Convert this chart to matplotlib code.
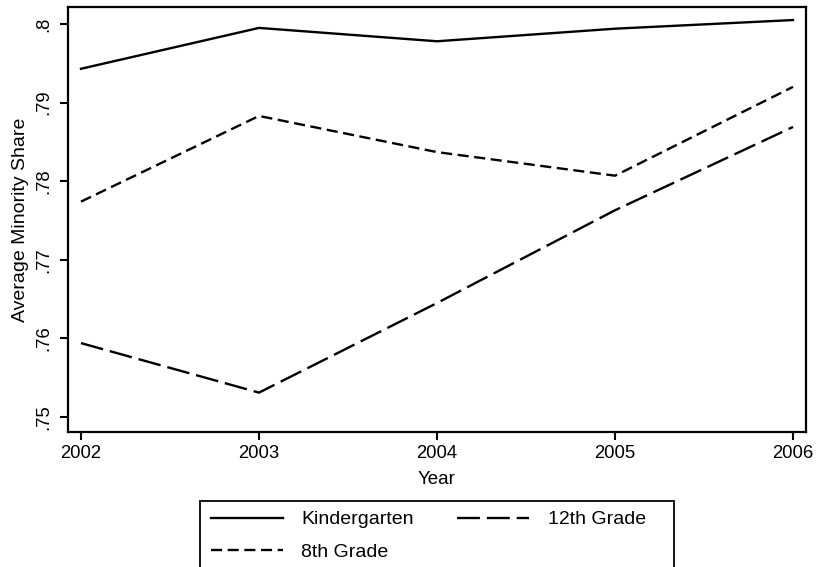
import matplotlib.pyplot as plt
from matplotlib.patches import Rectangle

plt.rcParams['font.family'] = ['Liberation Sans', 'DejaVu Sans']
plt.rcParams['lines.scale_dashes'] = False

years = [2002, 2003, 2004, 2005, 2006]
kindergarten = [0.7943, 0.7995, 0.7978, 0.7994, 0.8005]
grade12 = [0.7594, 0.7531, 0.7645, 0.7763, 0.7869]
grade8 = [0.7774, 0.7883, 0.7837, 0.7807, 0.7920]

yticks = [0.75, 0.76, 0.77, 0.78, 0.79, 0.80]
ytick_labels = ['.75', '.76', '.77', '.78', '.79', '.8']

fig = plt.figure(figsize=(8.17, 5.67), dpi=100)
ax = fig.add_axes([68/817, 1-432/567, (806-68)/817, (432-7)/567])

lw = 1.7
ax.plot(years, kindergarten, color='black', lw=lw, label='Kindergarten')
ax.plot(years, grade12, color='black', lw=lw, dashes=(16.5, 5), label='12th Grade')
ax.plot(years, grade8, color='black', lw=lw, dashes=(8, 4), label='8th Grade')

ax.set_xlim(2001.927, 2006.073)
ax.set_ylim(0.74809, 0.80216)
ax.set_xticks(years)
ax.set_xticklabels([str(y) for y in years])
ax.set_yticks(yticks)
ax.set_yticklabels(ytick_labels, rotation=90, va='center')

ax.tick_params(axis='both', direction='out', length=6, width=1.5, labelsize=13.3, color='black')
ax.tick_params(axis='x', pad=3)
ax.tick_params(axis='y', pad=5)
for s in ax.spines.values():
    s.set_linewidth(1.6)
    s.set_color('black')

ax.set_xlabel('Year', fontsize=13.5, labelpad=7)
ax.set_ylabel('Average Minority Share', fontsize=14, labelpad=5)

# legend in stata order: K, 12th in first row, 8th below
handles, labels = ax.get_legend_handles_labels()
order = [0, 2, 1]
leg = fig.legend([handles[i] for i in order], [labels[i] for i in order],
                 ncol=2, loc='upper left',
                 bbox_to_anchor=(201/817, 1-501/567),
                 bbox_transform=fig.transFigure, borderaxespad=0,
                 fontsize=14, handlelength=3.7, handletextpad=0.95,
                 columnspacing=2.25, labelspacing=0.75,
                 borderpad=0.5, frameon=False)

# fixed-width stata legend box
fig.patches.append(Rectangle((200/817, -0.01), 474/817, 1-501/567 + 0.01,
                             transform=fig.transFigure, fill=False,
                             edgecolor='black', lw=1.3))

fig.savefig('out.png', dpi=100)
